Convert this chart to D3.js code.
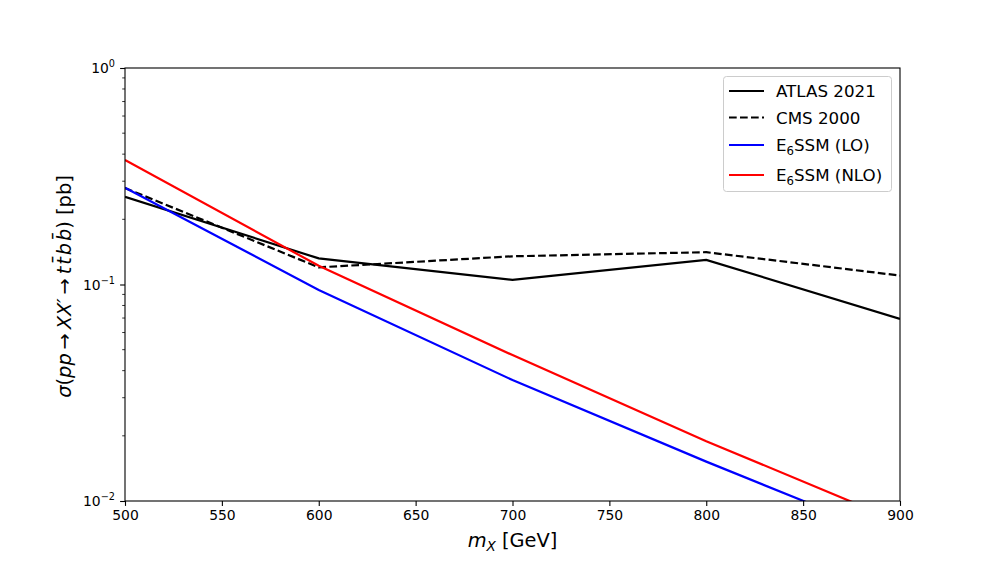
<!DOCTYPE html>
<html><head><meta charset="utf-8">
<script src="https://cdn.jsdelivr.net/npm/d3@7"></script>
<style>body{margin:0;background:#fff}svg{display:block}text{font-family:"DejaVu Sans",sans-serif}</style>
</head><body><svg id="c" width="1000" height="563"></svg>
<script>
const masses = [500, 600, 700, 800, 900];
const atlas = [0.254, 0.132, 0.105, 0.130, 0.0693];
const cms = [0.279, 0.120, 0.135, 0.141, 0.110];
const lo = [0.280, 0.0944, 0.0362, 0.0152, 0.0066];
const nlo = [0.376, 0.122, 0.0472, 0.0189, 0.0080];
const xTicks = [500, 550, 600, 650, 700, 750, 800, 850, 900];
const yTicks = [1e-2, 1e-1, 1];
const yTickExp = ["−2", "−1", "0"];
const seriesNames = ["ATLAS 2021", "CMS 2000", "E6SSM (LO)", "E6SSM (NLO)"];
const seriesColors = ["#000000", "#000000", "#0000ff", "#ff0000"];
const seriesDash = [null, "7.7,3.3", null, null];
const seriesData = [atlas, cms, lo, nlo];

const svg = d3.select("#c");
const L = 125, R = 900, T = 68, B = 501;
const x = d3.scaleLinear().domain([500, 900]).range([L, R]);
const y = d3.scaleLog().domain([1e-2, 1]).range([B, T]);

svg.append("clipPath").attr("id", "pc").append("rect")
  .attr("x", L).attr("y", T).attr("width", R - L).attr("height", B - T);

const line = d3.line().x((d, i) => x(masses[i])).y(d => y(d));
const g = svg.append("g").attr("clip-path", "url(#pc)");
seriesData.forEach((s, k) => {
  g.append("path").datum(s).attr("d", line).attr("fill", "none")
    .attr("stroke", seriesColors[k]).attr("stroke-width", 2.2)
    .attr("stroke-dasharray", seriesDash[k]);
});

// frame
svg.append("rect").attr("x", L).attr("y", T).attr("width", R - L).attr("height", B - T)
  .attr("fill", "none").attr("stroke", "#000").attr("stroke-width", 1.1);

// x axis
const xa = svg.append("g").attr("transform", `translate(0,${B})`)
  .call(d3.axisBottom(x).tickValues(xTicks).tickSize(4.9).tickPadding(4.5).tickFormat(d3.format("d")));
xa.select(".domain").remove();
xa.selectAll("text").attr("font-size", 13.9).attr("font-family", "DejaVu Sans").attr("fill", "#000");
xa.selectAll("line").attr("stroke-width", 1.1);

// y axis major
const ya = svg.append("g").attr("transform", `translate(${L},0)`)
  .call(d3.axisLeft(y).tickValues(yTicks).tickSize(4.9).tickFormat(""));
ya.select(".domain").remove();
ya.selectAll("line").attr("stroke-width", 1.1);
// minor
const minor = [];
for (let e = -2; e < 0; e++) for (let m = 2; m <= 9; m++) minor.push(m * Math.pow(10, e));
svg.append("g").selectAll("line").data(minor).join("line")
  .attr("x1", L - 2.8).attr("x2", L).attr("y1", d => y(d)).attr("y2", d => y(d))
  .attr("stroke", "#000").attr("stroke-width", 0.8);
// y tick labels
yTicks.forEach((v, i) => {
  const t = svg.append("text").attr("x", L - 10).attr("y", y(v) + 5)
    .attr("text-anchor", "end").attr("font-size", 13.9);
  t.append("tspan").text("10");
  t.append("tspan").attr("font-size", 9.7).attr("dy", -6).text(yTickExp[i]);
});

// x label
const xl = svg.append("text").attr("x", (L + R) / 2).attr("y", 547).attr("text-anchor", "middle").attr("font-size", 19.4);
xl.append("tspan").attr("font-style", "italic").text("m");
xl.append("tspan").attr("font-style", "italic").attr("font-size", 13.6).attr("dy", 4).text("X");
xl.append("tspan").attr("dy", -4).text(" [GeV]");

// y label
const yl = svg.append("text").attr("transform", `translate(71,${(T + B) / 2 + 2}) rotate(-90)`)
  .attr("text-anchor", "middle").attr("font-size", 19.4);
yl.append("tspan").attr("font-style", "italic").text("σ");
yl.append("tspan").text("(");
yl.append("tspan").attr("font-style", "italic").text("pp");
yl.append("tspan").text("\u2009→\u2009");
yl.append("tspan").attr("font-style", "italic").text("XX′");
yl.append("tspan").text("\u2009→\u2009");
yl.append("tspan").attr("font-style", "italic").text("t t\u0304 b b\u0304".replace(/ /g, "\u200a"));
yl.append("tspan").text(") [pb]");

// legend
const lg = svg.append("g");
lg.append("rect").attr("x", 723.5).attr("y", 76.5).attr("width", 168).attr("height", 115)
  .attr("rx", 3).attr("fill", "#fff").attr("fill-opacity", 0.8).attr("stroke", "#cccccc").attr("stroke-width", 1);
const rowY = [91, 117.5, 145, 175];
seriesNames.forEach((n, k) => {
  lg.append("line").attr("x1", 729).attr("x2", 764).attr("y1", rowY[k]).attr("y2", rowY[k])
    .attr("stroke", seriesColors[k]).attr("stroke-width", 2.2).attr("stroke-dasharray", seriesDash[k]);
  const t = lg.append("text").attr("x", 776).attr("y", rowY[k] + 6).attr("font-size", 16.7);
  if (n.startsWith("E6")) {
    t.append("tspan").text("E");
    t.append("tspan").attr("font-size", 11.7).attr("dy", 4).text("6");
    t.append("tspan").attr("dy", -4).text(n.slice(2));
  } else t.text(n);
});
</script></body></html>
